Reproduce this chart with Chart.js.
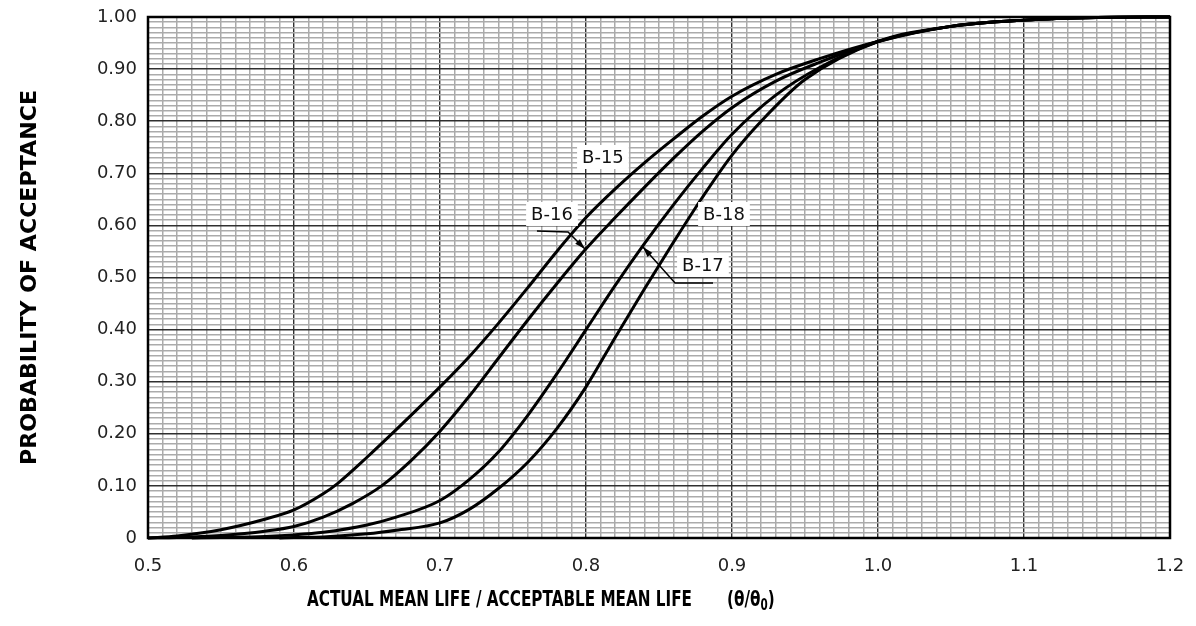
<!DOCTYPE html>
<html>
<head>
<meta charset="utf-8">
<script src="https://cdn.jsdelivr.net/npm/chart.js@4.4.1/dist/chart.umd.min.js"></script>
<style>
  html, body { margin: 0; background: #fff; }
</style>
</head>
<body>
<canvas id="oc-chart" width="1196" height="626"></canvas>
<script>
// Curvas OC (theta/theta0 -> probabilidad de aceptacion)
var seriesNames = ['B-15', 'B-16', 'B-17', 'B-18'];

var xB15 = [0.50, 0.52, 0.55, 0.58, 0.60, 0.62, 0.63, 0.65, 0.67, 0.70, 0.72, 0.74, 0.76, 0.78, 0.80, 0.82, 0.84, 0.86, 0.88, 0.90, 0.93, 0.96, 1.00, 1.05, 1.10, 1.15, 1.20];
var yB15 = [0.000, 0.004, 0.016, 0.036, 0.054, 0.085, 0.105, 0.155, 0.208, 0.290, 0.348, 0.412, 0.480, 0.550, 0.615, 0.670, 0.720, 0.766, 0.810, 0.848, 0.890, 0.920, 0.953, 0.982, 0.994, 0.999, 1.000];

var xB16 = [0.50, 0.52, 0.55, 0.58, 0.60, 0.62, 0.64, 0.66, 0.68, 0.70, 0.72, 0.74, 0.76, 0.78, 0.80, 0.82, 0.84, 0.86, 0.88, 0.90, 0.93, 0.96, 1.00, 1.05, 1.10, 1.15, 1.20];
var yB16 = [0.000, 0.001, 0.005, 0.013, 0.022, 0.040, 0.066, 0.100, 0.148, 0.205, 0.272, 0.345, 0.418, 0.488, 0.555, 0.615, 0.673, 0.729, 0.781, 0.826, 0.877, 0.913, 0.953, 0.982, 0.994, 0.999, 1.000];

var xB17 = [0.53, 0.55, 0.58, 0.60, 0.62, 0.65, 0.67, 0.70, 0.72, 0.74, 0.76, 0.78, 0.80, 0.82, 0.84, 0.86, 0.88, 0.90, 0.93, 0.96, 1.00, 1.05, 1.10, 1.15, 1.20];
var yB17 = [0.000, 0.001, 0.003, 0.006, 0.011, 0.025, 0.040, 0.072, 0.112, 0.165, 0.235, 0.315, 0.400, 0.485, 0.565, 0.640, 0.710, 0.775, 0.850, 0.903, 0.953, 0.982, 0.994, 0.999, 1.000];

var xB18 = [0.59, 0.60, 0.62, 0.65, 0.67, 0.70, 0.72, 0.74, 0.76, 0.78, 0.80, 0.82, 0.84, 0.86, 0.88, 0.90, 0.92, 0.95, 1.00, 1.05, 1.10, 1.15, 1.20];
var yB18 = [0.000, 0.001, 0.002, 0.008, 0.015, 0.029, 0.055, 0.095, 0.145, 0.210, 0.290, 0.385, 0.478, 0.568, 0.655, 0.735, 0.800, 0.880, 0.953, 0.982, 0.994, 0.999, 1.000];

var xTitle = 'ACTUAL MEAN LIFE / ACCEPTABLE MEAN LIFE';
var yTitle = 'PROBABILITY OF ACCEPTANCE';

// rotulos de curvas y lineas de referencia, en unidades de datos
var curveLabels = [
  { text: 'B-15', x: 0.8116, y: 0.7313 },
  { text: 'B-16', x: 0.7767, y: 0.6219 },
  { text: 'B-18', x: 0.8945, y: 0.6219 },
  { text: 'B-17', x: 0.8801, y: 0.5240 }
];
var leaders = [
  [[0.7664, 0.5893], [0.7877, 0.5873], [0.7993, 0.5547]],
  [[0.8870, 0.4894], [0.8610, 0.4894], [0.8390, 0.5585]]
];

function esMayor_(v) {
  return Math.abs(v * 10 - Math.round(v * 10)) < 1e-6;
}

function puntos_(xs, ys) {
  return xs.map(function (x, i) { return { x: x, y: ys[i] }; });
}

function textoAjustado_(ctx, texto, x, y, anchoObjetivo) {
  var ancho = ctx.measureText(texto).width;
  ctx.save();
  ctx.translate(x, y);
  ctx.scale(anchoObjetivo / ancho, 1);
  ctx.fillText(texto, 0, 0);
  ctx.restore();
}

var adornos = {
  id: 'adornos',
  afterDatasetsDraw: function (chart) {
    var ctx = chart.ctx;
    var sx = chart.scales.x;
    var sy = chart.scales.y;
    var area = chart.chartArea;

    ctx.save();
    ctx.strokeStyle = '#000';
    ctx.lineWidth = 2.5;
    ctx.strokeRect(area.left, area.top, area.right - area.left, area.bottom - area.top);

    // lineas de referencia con flecha
    ctx.lineWidth = 1.5;
    ctx.fillStyle = '#000';
    leaders.forEach(function (ruta) {
      ctx.beginPath();
      ruta.forEach(function (p, i) {
        var px = sx.getPixelForValue(p[0]);
        var py = sy.getPixelForValue(p[1]);
        if (i === 0) { ctx.moveTo(px, py); } else { ctx.lineTo(px, py); }
      });
      ctx.stroke();
      var a = ruta[ruta.length - 2];
      var b = ruta[ruta.length - 1];
      var ax = sx.getPixelForValue(a[0]), ay = sy.getPixelForValue(a[1]);
      var bx = sx.getPixelForValue(b[0]), by = sy.getPixelForValue(b[1]);
      var ang = Math.atan2(by - ay, bx - ax);
      ctx.beginPath();
      ctx.moveTo(bx, by);
      ctx.lineTo(bx - 11 * Math.cos(ang - 0.3), by - 11 * Math.sin(ang - 0.3));
      ctx.lineTo(bx - 11 * Math.cos(ang + 0.3), by - 11 * Math.sin(ang + 0.3));
      ctx.closePath();
      ctx.fill();
    });

    ctx.font = '18px "DejaVu Sans"';
    ctx.textAlign = 'center';
    ctx.textBaseline = 'middle';
    curveLabels.forEach(function (l) {
      var px = sx.getPixelForValue(l.x);
      var py = sy.getPixelForValue(l.y);
      var w = ctx.measureText(l.text).width + 10;
      ctx.fillStyle = '#fff';
      ctx.fillRect(px - w / 2, py - 12, w, 24);
      ctx.fillStyle = '#111';
      ctx.fillText(l.text, px, py + 1);
    });

    // titulos de ejes
    ctx.fillStyle = '#000';
    ctx.textAlign = 'left';
    ctx.font = 'bold 22px "DejaVu Sans"';
    textoAjustado_(ctx, xTitle, 307, 600, 385);
    var escala = 385 / ctx.measureText(xTitle).width;
    ctx.save();
    ctx.translate(727, 600);
    ctx.scale(escala, 1);
    ctx.fillText('(\u03b8/\u03b8', 0, 0);
    var w1 = ctx.measureText('(\u03b8/\u03b8').width;
    ctx.font = 'bold 15px "DejaVu Sans"';
    ctx.fillText('0', w1, 6);
    var w2 = ctx.measureText('0').width;
    ctx.font = 'bold 22px "DejaVu Sans"';
    ctx.fillText(')', w1 + w2, 0);
    ctx.restore();

    ctx.font = 'bold 22px "DejaVu Sans"';
    ctx.save();
    ctx.translate(30, 278);
    ctx.rotate(-Math.PI / 2);
    textoAjustado_(ctx, yTitle, -187, 0, 375);
    ctx.restore();
    ctx.restore();
  }
};

var ejeComun = {
  type: 'linear',
  border: { display: false },
  grid: {
    drawTicks: false,
    color: function (c) { return esMayor_(c.tick.value) ? '#303030' : '#ababab'; },
    lineWidth: function (c) { return esMayor_(c.tick.value) ? 1.4 : 1.5; }
  }
};

var datasets = [
  puntos_(xB15, yB15),
  puntos_(xB16, yB16),
  puntos_(xB17, yB17),
  puntos_(xB18, yB18)
].map(function (pts, i) {
  return {
    label: seriesNames[i],
    data: pts,
    borderColor: '#000',
    borderWidth: 3,
    pointRadius: 0,
    cubicInterpolationMode: 'monotone',
    clip: false
  };
});

new Chart(document.getElementById('oc-chart'), {
  type: 'line',
  data: { datasets: datasets },
  options: {
    responsive: false,
    animation: false,
    layout: { padding: { top: 17, right: 26, left: 0, bottom: 0 } },
    plugins: { legend: { display: false }, tooltip: { enabled: false } },
    scales: {
      x: Object.assign({}, ejeComun, {
        min: 0.5,
        max: 1.2,
        afterFit: function (s) {
          s.height = 88;
          s.paddingLeft = 0;
          s.paddingRight = 0;
        },
        ticks: {
          stepSize: 0.01,
          autoSkip: false,
          maxRotation: 0,
          padding: 18,
          color: '#222',
          font: { family: 'DejaVu Sans', size: 18 },
          callback: function (v) { return esMayor_(v) ? v.toFixed(1) : ''; }
        }
      }),
      y: Object.assign({}, ejeComun, {
        min: 0,
        max: 1,
        afterFit: function (s) {
          s.width = 148;
          s.paddingTop = 0;
          s.paddingBottom = 0;
        },
        ticks: {
          stepSize: 0.01,
          autoSkip: false,
          padding: 11,
          color: '#222',
          font: { family: 'DejaVu Sans', size: 18 },
          callback: function (v) {
            if (Math.abs(v) < 1e-9) { return '0'; }
            return esMayor_(v) ? v.toFixed(2) : '';
          }
        }
      })
    }
  },
  plugins: [adornos]
});
</script>
</body>
</html>
